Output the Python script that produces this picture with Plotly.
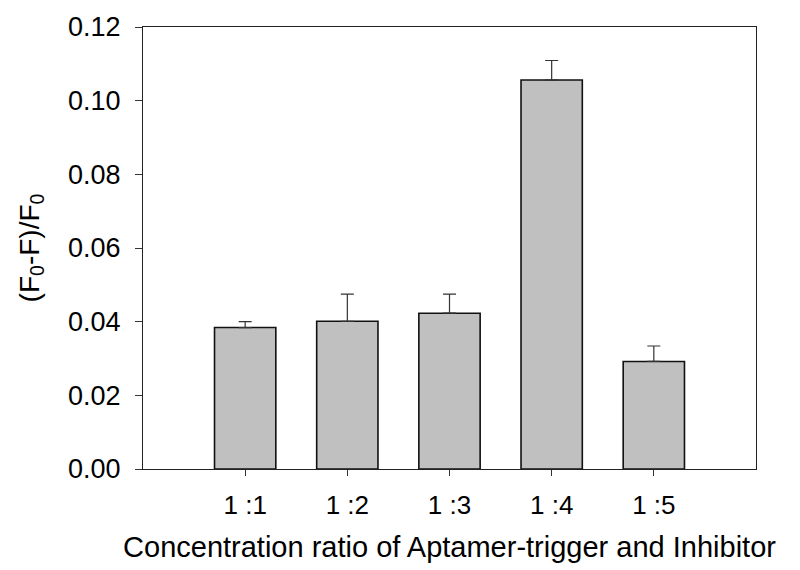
import plotly.graph_objects as go

categories = ["1 :1", "1 :2", "1 :3", "1 :4", "1 :5"]
values = [0.0384, 0.0401, 0.0423, 0.1056, 0.0292]
errors_up = [0.0016, 0.0074, 0.0052, 0.0053, 0.0042]
y_ticks = [0.00, 0.02, 0.04, 0.06, 0.08, 0.10, 0.12]
y_tick_labels = ["0.00", "0.02", "0.04", "0.06", "0.08", "0.10", "0.12"]

FONT = "Liberation Sans, Arial, sans-serif"

fig = go.Figure()
fig.add_trace(go.Bar(
    x=list(range(len(categories))),
    y=values,
    width=0.6,
    marker=dict(color="#c0c0c0", line=dict(color="#111111", width=1.6)),
    error_y=dict(type="data", symmetric=False, array=errors_up,
                 arrayminus=[0] * len(values), color="#333333",
                 thickness=1.2, width=6.5),
    showlegend=False,
))

fig.update_layout(
    width=800, height=570,
    margin=dict(l=143, r=44, t=27, b=101),
    paper_bgcolor="white", plot_bgcolor="white",
    font=dict(family=FONT, size=27, color="black"),
    xaxis=dict(
        range=[-1, 5],
        tickmode="array",
        tickvals=list(range(len(categories))),
        ticktext=categories,
        tickfont=dict(size=26),
        ticks="outside", ticklen=6, tickwidth=1.2, tickcolor="#333333",
        showline=True, linecolor="#222222", linewidth=1.3, mirror=True,
        showgrid=False, zeroline=False,
        ticklabelstandoff=7,
        title=dict(text="Concentration ratio of Aptamer-trigger and Inhibitor",
                   standoff=17, font=dict(size=29)),
    ),
    yaxis=dict(
        range=[0, 0.12],
        tickmode="array",
        tickvals=y_ticks,
        ticktext=y_tick_labels,
        tickfont=dict(size=27),
        ticks="outside", ticklen=7, tickwidth=1.2, tickcolor="#333333",
        showline=True, linecolor="#222222", linewidth=1.3, mirror=True,
        showgrid=False, zeroline=False,
        ticklabelstandoff=9,
        title=dict(text="(F<sub>0</sub>-F)/F<sub>0</sub>", standoff=20,
                   font=dict(size=28)),
    ),
    bargap=0.4,
)

fig.write_html("out.html")
